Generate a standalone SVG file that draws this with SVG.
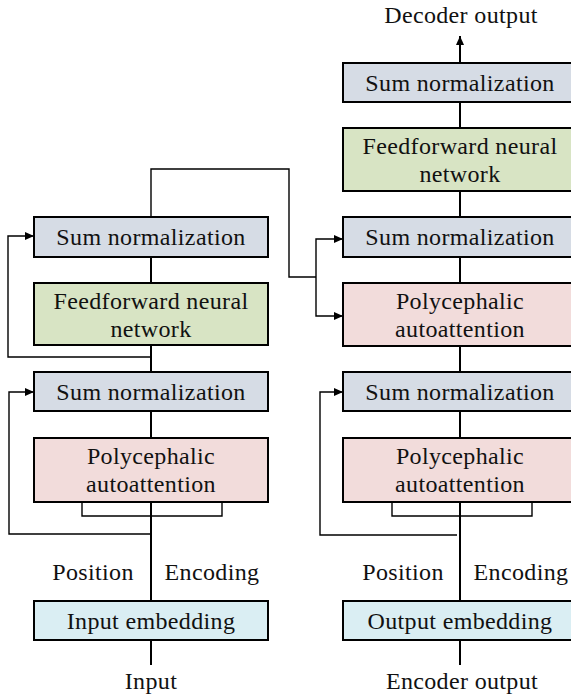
<svg xmlns="http://www.w3.org/2000/svg" width="571" height="695" viewBox="0 0 571 695">
  <style>
    .box { stroke: #000; stroke-width: 2; }
    .sum { fill: #d6dce5; }
    .ffn { fill: #d8e4c4; }
    .att { fill: #f2dcdb; }
    .emb { fill: #daeef3; }
    text { font-size: 24px; letter-spacing: 0.35px; fill: #111; text-anchor: middle; }
    .link { fill: none; stroke: #000; stroke-width: 2; }
    .loop { fill: none; stroke: #000; stroke-width: 1.4; }
  </style>
  <defs>
    <marker id="arrow" markerWidth="9" markerHeight="8" refX="9" refY="4" orient="auto" markerUnits="userSpaceOnUse">
      <path d="M0,0 L9,4 L0,8 z" fill="#000"/>
    </marker>
  </defs>

  <rect width="571" height="695" fill="#fff"/>

  <!-- connectors -->
  <g id="connectors">
    <!-- encoder trunk -->
    <path class="link" d="M151,257 V283 M151,345 V372 M151,411 V438 M151,502 V601 M151,640 V665"/>
    <!-- decoder trunk -->
    <path class="link" d="M460,102 V128 M460,191 V217 M460,257 V283 M460,346 V372 M460,411 V438 M460,502 V601 M460,640 V665"/>
    <path class="link" d="M460,63 V36" marker-end="url(#arrow)"/>
    <!-- brackets under attention blocks -->
    <path class="loop" d="M82,502 V516 H222 V502"/>
    <path class="loop" d="M392,502 V516 H532 V502"/>
    <!-- residual loops -->
    <path class="loop" d="M151,357 H8 V236 H34" marker-end="url(#arrow)"/>
    <path class="loop" d="M151,534 H9 V392 H34" marker-end="url(#arrow)"/>
    <path class="loop" d="M457,535 H320 V392 H343" marker-end="url(#arrow)"/>
    <!-- encoder to decoder -->
    <path class="loop" d="M151,217 V169 H289 V277 H316"/>
    <path class="loop" d="M316,277 V239 H343" marker-end="url(#arrow)"/>
    <path class="loop" d="M316,277 V316 H343" marker-end="url(#arrow)"/>
  </g>

  <g font-family="'Liberation Serif', 'Times New Roman', Tinos, 'DejaVu Serif', 'Noto Serif', serif">
  <!-- encoder -->
  <g id="enc-sum2">
    <rect class="box sum" x="34" y="217" width="234" height="40"/>
    <text x="151" y="245">Sum normalization</text>
  </g>
  <g id="enc-ffn">
    <rect class="box ffn" x="34" y="283" width="234" height="62"/>
    <text x="151" y="309">Feedforward neural</text>
    <text x="151" y="337">network</text>
  </g>
  <g id="enc-sum1">
    <rect class="box sum" x="34" y="372" width="234" height="39"/>
    <text x="151" y="400">Sum normalization</text>
  </g>
  <g id="enc-att">
    <rect class="box att" x="34" y="438" width="234" height="64"/>
    <text x="151" y="464">Polycephalic</text>
    <text x="151" y="492">autoattention</text>
  </g>
  <g id="enc-pos">
    <text x="93" y="580">Position</text>
    <text x="212" y="580">Encoding</text>
  </g>
  <g id="enc-emb">
    <rect class="box emb" x="34" y="601" width="234" height="39"/>
    <text x="151" y="629">Input embedding</text>
  </g>
  <g id="enc-input">
    <text x="151" y="689">Input</text>
  </g>

  <!-- decoder -->
  <g id="dec-output">
    <text x="461" y="23">Decoder output</text>
  </g>
  <g id="dec-sum3">
    <rect class="box sum" x="343" y="63" width="234" height="39"/>
    <text x="460" y="91">Sum normalization</text>
  </g>
  <g id="dec-ffn">
    <rect class="box ffn" x="343" y="128" width="234" height="63"/>
    <text x="460" y="154">Feedforward neural</text>
    <text x="460" y="182">network</text>
  </g>
  <g id="dec-sum2">
    <rect class="box sum" x="343" y="217" width="234" height="40"/>
    <text x="460" y="245">Sum normalization</text>
  </g>
  <g id="dec-att2">
    <rect class="box att" x="343" y="283" width="234" height="63"/>
    <text x="460" y="309">Polycephalic</text>
    <text x="460" y="337">autoattention</text>
  </g>
  <g id="dec-sum1">
    <rect class="box sum" x="343" y="372" width="234" height="39"/>
    <text x="460" y="400">Sum normalization</text>
  </g>
  <g id="dec-att1">
    <rect class="box att" x="343" y="438" width="234" height="64"/>
    <text x="460" y="464">Polycephalic</text>
    <text x="460" y="492">autoattention</text>
  </g>
  <g id="dec-pos">
    <text x="403" y="580">Position</text>
    <text x="521" y="580">Encoding</text>
  </g>
  <g id="dec-emb">
    <rect class="box emb" x="343" y="601" width="234" height="39"/>
    <text x="460" y="629">Output embedding</text>
  </g>
  <g id="dec-input">
    <text x="462" y="689">Encoder output</text>
  </g>
  </g>
</svg>
